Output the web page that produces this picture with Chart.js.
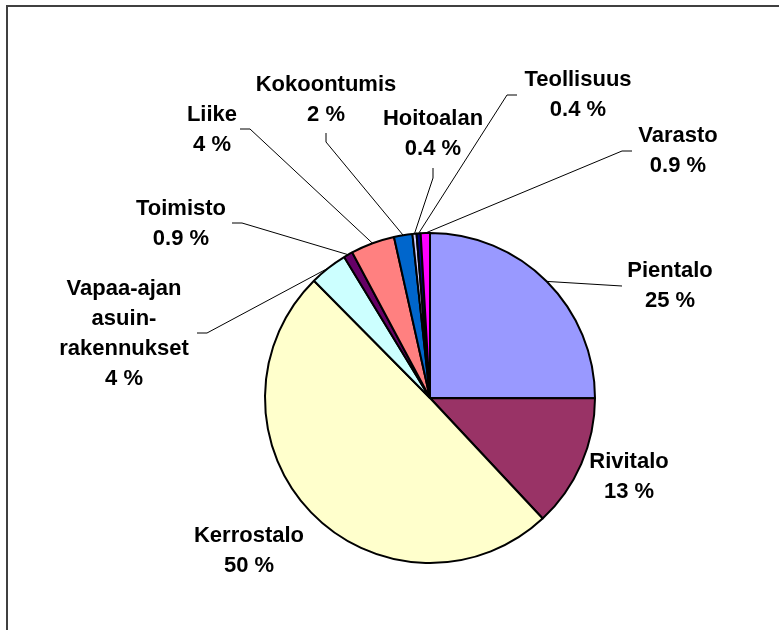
<!DOCTYPE html>
<html>
<head>
<meta charset="utf-8">
<script src="https://cdn.jsdelivr.net/npm/chart.js@4.4.0/dist/chart.umd.min.js"></script>
<style>
  body { margin: 0; background: #fff; }
  #wrap { width: 779px; height: 630px; }
</style>
</head>
<body>
<div id="wrap"><canvas id="pie" width="779" height="630"></canvas></div>
<script>
// building types, clockwise from 12 o'clock
const categories = [
  "Pientalo", "Rivitalo", "Kerrostalo", "Vapaa-ajan\nasuin-\nrakennukset",
  "Toimisto", "Liike", "Kokoontumis", "Hoitoalan", "Teollisuus", "Varasto"
];
const shares = [25, 13, 49.5, 3.7, 0.9, 4.3, 1.8, 0.4, 0.4, 0.9];

const sliceColors = [
  "#9999FF", "#993366", "#FFFFCC", "#CCFFFF", "#660066",
  "#FF8080", "#0066CC", "#CCCCFF", "#000080", "#FF00FF"
];

// label placement: text centre x, first baseline y, leader points (label side first)
const labelPlaces = [
  { x: 670, y: 277, lead: [[622, 286]] },
  { x: 629, y: 468, lead: null },
  { x: 249, y: 542, lead: null },
  { x: 124, y: 295, lead: [[197, 333], [207, 333]] },
  { x: 181, y: 215, lead: [[232, 223], [242, 223]] },
  { x: 212, y: 121, lead: [[240, 129], [250, 129]] },
  { x: 326, y: 91,  lead: [[326, 133], [326, 142]] },
  { x: 433, y: 125, lead: [[433, 168], [433, 178]] },
  { x: 578, y: 86,  lead: [[517, 95], [507, 95]] },
  { x: 678, y: 142, lead: [[632, 151], [622, 151]] }
];

function pctText(v) {
  return (v < 1 ? v.toFixed(1) : Math.round(v).toString()) + " %";
}

const framePlugin = {
  id: "frame",
  beforeDraw(chart) {
    const ctx = chart.ctx;
    ctx.save();
    ctx.fillStyle = "#fff";
    ctx.fillRect(0, 0, chart.width, chart.height);
    ctx.strokeStyle = "#404040";
    ctx.lineWidth = 2;
    ctx.strokeRect(7, 6, 900, 800);
    ctx.restore();
  }
};

const labelPlugin = {
  id: "sliceLabels",
  afterDatasetsDraw(chart) {
    const ctx = chart.ctx;
    const arcs = chart.getDatasetMeta(0).data;
    ctx.save();
    ctx.font = "bold 22px 'Liberation Sans', Arial, sans-serif";
    ctx.textAlign = "center";
    ctx.textBaseline = "alphabetic";
    ctx.fillStyle = "#000";
    arcs.forEach((arc, i) => {
      const p = labelPlaces[i];
      const lines = categories[i].split("\n").concat([pctText(shares[i])]);
      lines.forEach((t, k) => ctx.fillText(t, p.x, p.y + k * 30));
      if (p.lead) {
        const mid = (arc.startAngle + arc.endAngle) / 2;
        const ex = arc.x + Math.cos(mid) * arc.outerRadius;
        const ey = arc.y + Math.sin(mid) * arc.outerRadius;
        ctx.beginPath();
        ctx.strokeStyle = "#000";
        ctx.lineWidth = 1;
        ctx.moveTo(p.lead[0][0], p.lead[0][1]);
        for (let j = 1; j < p.lead.length; j++) ctx.lineTo(p.lead[j][0], p.lead[j][1]);
        ctx.lineTo(ex, ey);
        ctx.stroke();
      }
    });
    ctx.restore();
  }
};

new Chart(document.getElementById("pie"), {
  type: "pie",
  data: {
    labels: categories,
    datasets: [{
      data: shares,
      backgroundColor: sliceColors,
      borderColor: "#000",
      borderWidth: 2
    }]
  },
  options: {
    responsive: false,
    animation: false,
    layout: { padding: { left: 264, right: 183, top: 232, bottom: 66 } },
    plugins: {
      legend: { display: false },
      tooltip: { enabled: false }
    }
  },
  plugins: [framePlugin, labelPlugin]
});
</script>
</body>
</html>
